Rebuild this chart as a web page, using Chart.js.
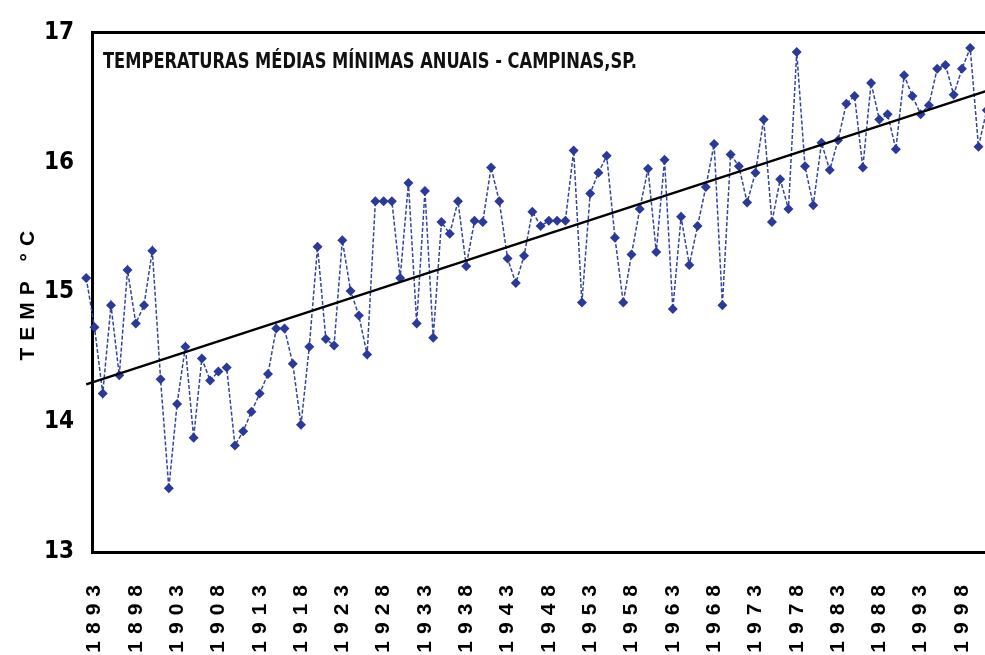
<!DOCTYPE html>
<html>
<head>
<meta charset="utf-8">
<script src="https://cdn.jsdelivr.net/npm/chart.js@4.4.1/dist/chart.umd.min.js"></script>
<style>
html, body { margin: 0; padding: 0; background: #fff; overflow: hidden; }
#wrap { width: 1000px; height: 680px; }
</style>
</head>
<body>
<div id="wrap"><canvas id="myChart" width="1000" height="680"></canvas></div>
<script>
// annual mean minimum temperature, Campinas SP
var firstYear = 1892;
var temps = [
    15.11, 14.73, 14.22, 14.90, 14.36, 15.17, 14.76, 14.90, 15.32, 14.33,
    13.49, 14.14, 14.58, 13.88, 14.49, 14.32, 14.39, 14.42, 13.82, 13.93,
    14.08, 14.22, 14.37, 14.72, 14.72, 14.45, 13.98, 14.58, 15.35, 14.64,
    14.59, 15.40, 15.01, 14.82, 14.52, 15.70, 15.70, 15.70, 15.11, 15.84,
    14.76, 15.78, 14.65, 15.54, 15.45, 15.70, 15.20, 15.55, 15.54, 15.96,
    15.70, 15.26, 15.07, 15.28, 15.62, 15.51, 15.55, 15.55, 15.55, 16.09,
    14.92, 15.76, 15.92, 16.05, 15.42, 14.92, 15.29, 15.64, 15.95, 15.31,
    16.02, 14.87, 15.58, 15.21, 15.51, 15.81, 16.14, 14.90, 16.06, 15.97,
    15.69, 15.92, 16.33, 15.54, 15.87, 15.64, 16.85, 15.97, 15.67, 16.15,
    15.94, 16.17, 16.45, 16.51, 15.96, 16.61, 16.33, 16.37, 16.10, 16.67,
    16.51, 16.37, 16.44, 16.72, 16.75, 16.52, 16.72, 16.88, 16.12, 16.40
];
var years = temps.map(function (t, i) { return firstYear + i; });

// linear trend, end points
var trendYears = [1892, 2001];
var trendTemps = [14.29, 16.55];

var tickYears = [1893, 1898, 1903, 1908, 1913, 1918, 1923, 1928, 1933, 1938, 1943,
                 1948, 1953, 1958, 1963, 1968, 1973, 1978, 1983, 1988, 1993, 1998];
var tempTicks = [13, 14, 15, 16, 17];

var chartTitle = "TEMPERATURAS MÉDIAS MÍNIMAS ANUAIS - CAMPINAS,SP.";
var axisTitle = "TEMP °C";

var narrow = "'Liberation Sans Narrow', 'DejaVu Sans Condensed', sans-serif";
var wide = "'Liberation Sans', Arial, sans-serif";

var toPoints = function (xs, ys) {
    return xs.map(function (x, i) { return { x: x, y: ys[i] }; });
};

// spaced-out lettering for the year labels and the y title (drawn before the datasets)
var spacing = {
    id: 'spacing',
    beforeDraw: function (chart) { chart.ctx.letterSpacing = '7px'; },
    beforeDatasetsDraw: function (chart) { chart.ctx.letterSpacing = '0px'; }
};

// first marker sits just left of the axis line, outside the chart area
var edgePoint = {
    id: 'edgePoint',
    afterDatasetsDraw: function (chart) {
        var p = chart.getDatasetMeta(1).data[0];
        if (p) p.draw(chart.ctx, { left: 0, top: 0, right: chart.width, bottom: chart.height });
    }
};

// narrow title inside the plot frame
var innerTitle = {
    id: 'innerTitle',
    afterDraw: function (chart) {
        var ctx = chart.ctx;
        ctx.save();
        ctx.letterSpacing = '0px';
        ctx.font = "bold 22px " + narrow;
        ctx.fillStyle = '#111';
        ctx.textBaseline = 'middle';
        var w = ctx.measureText(chartTitle).width;
        ctx.translate(chart.chartArea.left + 11, chart.chartArea.top + 30);
        ctx.scale(534 / w, 1);
        ctx.fillText(chartTitle, 0, 0);
        ctx.restore();
    }
};

var ctx = document.getElementById("myChart").getContext("2d");
var myLineChart = new Chart(ctx, {
    type: 'line',
    data: {
        datasets: [
            {
                label: "Tendência",
                data: toPoints(trendYears, trendTemps),
                borderColor: "#000",
                borderWidth: 2.5,
                pointRadius: 0,
                clip: false,
                order: 0
            },
            {
                label: "Temp. média mínima",
                data: toPoints(years, temps),
                borderColor: "#3444a2",
                borderWidth: 1.5,
                borderDash: [4, 2],
                pointStyle: 'rectRot',
                pointRadius: 5,
                pointBorderWidth: 0,
                pointBackgroundColor: "#2b3a98",
                pointBorderColor: "#2b3a98",
                clip: false,
                order: 1
            }
        ]
    },
    options: {
        responsive: false,
        animation: false,
        layout: { padding: { top: 27, right: 4, left: 0, bottom: 0 } },
        plugins: {
            legend: { display: false },
            tooltip: { enabled: false }
        },
        scales: {
            x: {
                type: 'linear',
                position: 'bottom',
                min: 1892.7,
                max: 2002,
                afterBuildTicks: function (scale) {
                    scale.ticks = tickYears.map(function (v) { return { value: v }; });
                },
                afterFit: function (scale) {
                    scale.height = 128;
                    scale.paddingLeft = 0;
                    scale.paddingRight = 0;
                },
                grid: { display: false, drawTicks: false },
                border: { color: "#000", width: 3 },
                ticks: {
                    autoSkip: false,
                    minRotation: 90,
                    maxRotation: 90,
                    padding: 26,
                    color: "#000",
                    font: { family: wide, weight: 'bold', size: 21 },
                    callback: function (v) { return String(v); }
                }
            },
            x2: {
                type: 'linear',
                position: 'top',
                min: 1892.7,
                max: 2002,
                afterFit: function (scale) {
                    scale.height = 0;
                    scale.paddingLeft = 0;
                    scale.paddingRight = 0;
                },
                grid: { display: false, drawTicks: false },
                border: { color: "#000", width: 3 },
                ticks: { display: false }
            },
            y: {
                min: 13,
                max: 17,
                afterBuildTicks: function (scale) {
                    scale.ticks = tempTicks.map(function (v) { return { value: v }; });
                },
                afterFit: function (scale) { scale.width = 92; },
                grid: { display: false, drawTicks: false },
                border: { color: "#000", width: 3 },
                ticks: {
                    z: 1,
                    padding: 18,
                    color: "#000",
                    font: { family: narrow, weight: 'bold', size: 24 }
                },
                title: {
                    display: true,
                    text: axisTitle,
                    color: "#000",
                    font: { family: wide, weight: 'bold', size: 21 },
                    padding: { top: 16, bottom: 0 }
                }
            }
        }
    },
    plugins: [spacing, edgePoint, innerTitle]
});
</script>
</body>
</html>
